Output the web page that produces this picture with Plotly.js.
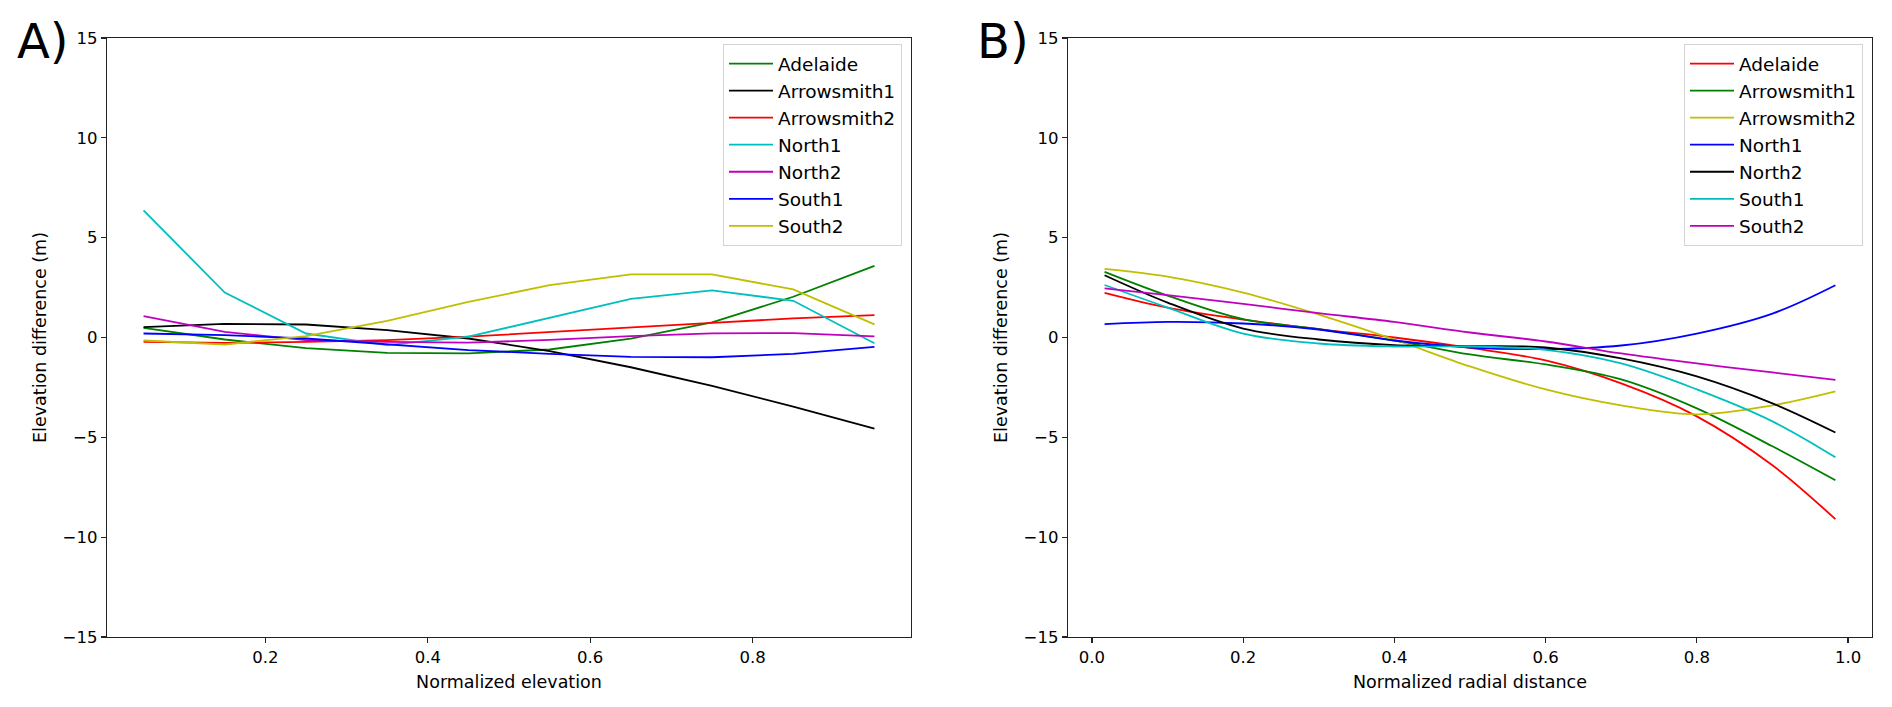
<!DOCTYPE html>
<html>
<head>
<meta charset="utf-8">
<script src="https://cdn.plot.ly/plotly-3.0.1.min.js"></script>
<style>html,body{margin:0;padding:0;background:#fff;}#chart{width:1892px;height:707px;}</style>
</head>
<body>
<div id="chart"></div>
<script>
// ---- Panel A data (normalized elevation) ----
const xA = [0.05, 0.15, 0.25, 0.35, 0.45, 0.55, 0.65, 0.75, 0.85, 0.95];
const A_Adelaide    = [0.48, -0.10, -0.53, -0.77, -0.80, -0.60, -0.06, 0.76, 2.04, 3.59];
const A_Arrowsmith1 = [0.52, 0.68, 0.65, 0.37, -0.05, -0.68, -1.49, -2.42, -3.46, -4.56];
const A_Arrowsmith2 = [-0.22, -0.27, -0.22, -0.13, 0.04, 0.26, 0.49, 0.73, 0.96, 1.12];
const A_North1      = [6.37, 2.25, 0.20, -0.38, 0.04, 1.00, 1.93, 2.36, 1.84, -0.29];
const A_North2      = [1.07, 0.28, -0.13, -0.22, -0.26, -0.12, 0.07, 0.21, 0.22, 0.06];
const A_South1      = [0.20, 0.12, -0.05, -0.35, -0.63, -0.82, -0.97, -0.99, -0.82, -0.47];
const A_South2      = [-0.15, -0.35, 0.07, 0.83, 1.78, 2.62, 3.16, 3.16, 2.41, 0.66];

// ---- Panel B data (normalized radial distance) ----
const xB = [0.0167, 0.1, 0.2, 0.3, 0.4, 0.5, 0.6, 0.7, 0.8, 0.9, 0.9833];
const B_Adelaide    = [2.24, 1.50, 0.90, 0.42, 0.00, -0.52, -1.15, -2.30, -3.95, -6.40, -9.10];
const B_Arrowsmith1 = [3.29, 2.10, 0.92, 0.42, -0.15, -0.85, -1.35, -2.10, -3.55, -5.45, -7.15];
const B_Arrowsmith2 = [3.44, 3.05, 2.25, 1.15, -0.10, -1.45, -2.60, -3.40, -3.85, -3.40, -2.70];
const B_North1      = [0.67, 0.78, 0.70, 0.40, -0.15, -0.50, -0.58, -0.40, 0.20, 1.20, 2.62];
const B_North2      = [3.12, 1.75, 0.45, -0.10, -0.38, -0.43, -0.50, -1.05, -1.95, -3.30, -4.76];
const B_South1      = [2.63, 1.50, 0.20, -0.30, -0.45, -0.45, -0.62, -1.30, -2.60, -4.20, -6.00];
const B_South2      = [2.46, 2.12, 1.68, 1.22, 0.78, 0.25, -0.20, -0.80, -1.30, -1.75, -2.12];

const namesA = ['Adelaide', 'Arrowsmith1', 'Arrowsmith2', 'North1', 'North2', 'South1', 'South2'];
const seriesA = [A_Adelaide, A_Arrowsmith1, A_Arrowsmith2, A_North1, A_North2, A_South1, A_South2];
const colorsA = ['#008000', '#000000', '#ff0000', '#00bfbf', '#bf00bf', '#0000ff', '#bfbf00'];

const namesB = ['Adelaide', 'Arrowsmith1', 'Arrowsmith2', 'North1', 'North2', 'South1', 'South2'];
const seriesB = [B_Adelaide, B_Arrowsmith1, B_Arrowsmith2, B_North1, B_North2, B_South1, B_South2];
const colorsB = ['#ff0000', '#008000', '#bfbf00', '#0000ff', '#000000', '#00bfbf', '#bf00bf'];

const traces = [];
namesA.forEach((n, i) => traces.push({
  x: xA, y: seriesA[i], name: n, type: 'scatter', mode: 'lines',
  line: {color: colorsA[i], width: 1.8}, xaxis: 'x', yaxis: 'y',
  legend: 'legend', legendgroup: 'a' + i
}));
namesB.forEach((n, i) => traces.push({
  x: xB, y: seriesB[i], name: n, type: 'scatter', mode: 'lines',
  line: {color: colorsB[i], width: 1.8, shape: 'spline', smoothing: 1.0}, xaxis: 'x2', yaxis: 'y2',
  legend: 'legend2', legendgroup: 'b' + i
}));

const W = 1892, H = 707, T = 38, B = 70;
const tickFont = {family: 'DejaVu Sans, sans-serif', size: 16.5, color: '#000'};
const titleFont = {family: 'DejaVu Sans, sans-serif', size: 17.5, color: '#000'};
const legFont = {family: 'DejaVu Sans, sans-serif', size: 18.5, color: '#000'};
const axLine = {showline: true, mirror: true, linecolor: '#222', linewidth: 1.3,
  ticks: 'outside', ticklen: 5, tickwidth: 1.2, tickcolor: '#222',
  showgrid: false, zeroline: false, tickfont: tickFont, automargin: false};

const yTitle = {text: 'Elevation difference (m)', font: titleFont, standoff: 11};

const legendBase = {font: legFont, bgcolor: 'rgba(255,255,255,0.8)', bordercolor: '#d4d4d4',
  borderwidth: 1, xanchor: 'right', yanchor: 'top', tracegroupgap: 0, itemwidth: 44,
  xref: 'paper', yref: 'paper'};
const ly = (637 - 44) / (H - T - B);

const layout = {
  width: W, height: H,
  margin: {l: 0, r: 0, t: T, b: B, pad: 0},
  paper_bgcolor: '#fff', plot_bgcolor: '#fff',
  font: tickFont,
  showlegend: true,
  xaxis: Object.assign({}, axLine, {domain: [107 / W, 911 / W], range: [0.005, 0.995],
    tickvals: [0.2, 0.4, 0.6, 0.8], ticktext: ['0.2', '0.4', '0.6', '0.8'], anchor: 'y',
    title: {text: 'Normalized elevation', font: titleFont, standoff: 9}}),
  yaxis: Object.assign({}, axLine, {domain: [0, 1], range: [-15, 15], dtick: 5, tick0: 0, anchor: 'x',
    title: yTitle}),
  xaxis2: Object.assign({}, axLine, {domain: [1068 / W, 1872 / W], range: [-0.0317, 1.0317],
    dtick: 0.2, tick0: 0, tickformat: '.1f', anchor: 'y2',
    title: {text: 'Normalized radial distance', font: titleFont, standoff: 9}}),
  yaxis2: Object.assign({}, axLine, {domain: [0, 1], range: [-15, 15], dtick: 5, tick0: 0, anchor: 'x2',
    title: yTitle}),
  legend: Object.assign({}, legendBase, {x: 902 / W, y: ly}),
  legend2: Object.assign({}, legendBase, {x: 1863 / W, y: ly}),
  annotations: [
    {text: 'A)', xref: 'paper', yref: 'paper', x: 15 / W, y: (637 - 41) / (H - T - B),
      xanchor: 'left', yanchor: 'middle', showarrow: false,
      font: {family: 'DejaVu Sans, sans-serif', size: 48, color: '#000'}},
    {text: 'B)', xref: 'paper', yref: 'paper', x: 975 / W, y: (637 - 41) / (H - T - B),
      xanchor: 'left', yanchor: 'middle', showarrow: false,
      font: {family: 'DejaVu Sans, sans-serif', size: 48, color: '#000'}}
  ]
};

Plotly.newPlot('chart', traces, layout, {displayModeBar: false, staticPlot: true});
</script>
</body>
</html>
